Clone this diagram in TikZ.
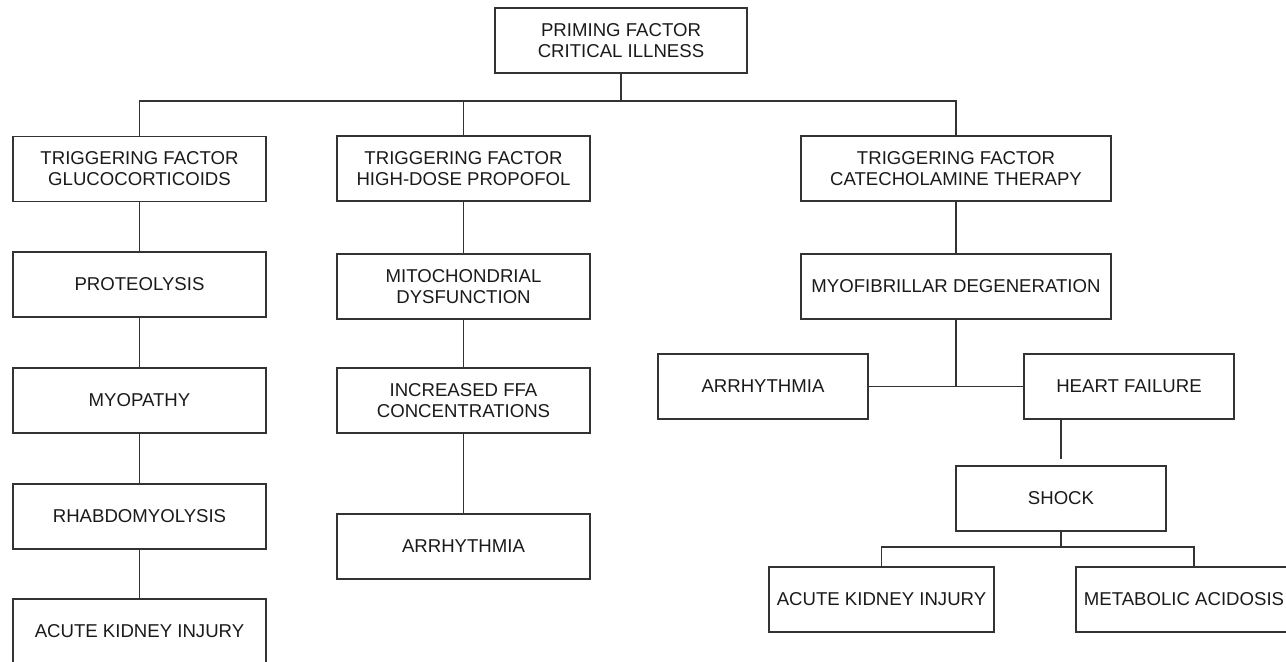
\documentclass[tikz,border=0pt]{standalone}
\usepackage{fontspec}
\setmainfont{Liberation Sans}
\definecolor{inkline}{HTML}{333333}
\definecolor{inktext}{HTML}{1A1A1A}
\begin{document}
\begin{tikzpicture}[x=0.5pt,y=-0.5pt,
  box/.style={draw=inkline, line width=0.7pt, rectangle, inner sep=0pt,
    minimum height=32.5pt, align=center, text=inktext,
    font=\fontsize{9.3}{10.5}\selectfont},
  link/.style={draw=inkline, line width=0.7pt}]
\useasboundingbox (0,0) rectangle (1286,661);
\clip (0,0) rectangle (1286,661);

% root
\node[box, minimum width=126pt] (root) at (621,40.5) {PRIMING FACTOR\\CRITICAL ILLNESS};

% glucocorticoid branch
\node[box, minimum width=126.5pt] (g1) at (139.5,169) {TRIGGERING FACTOR\\GLUCOCORTICOIDS};
\node[box, minimum width=126.5pt] (g2) at (139.5,284.5) {PROTEOLYSIS};
\node[box, minimum width=126.5pt] (g3) at (139.5,400.5) {MYOPATHY};
\node[box, minimum width=126.5pt] (g4) at (139.5,516.5) {RHABDOMYOLYSIS};
\node[box, minimum width=126.5pt] (g5) at (139.5,631.5) {ACUTE KIDNEY INJURY};

% propofol branch
\node[box, minimum width=126.5pt] (p1) at (463.5,168.5) {TRIGGERING FACTOR\\HIGH-DOSE PROPOFOL};
\node[box, minimum width=126.5pt] (p2) at (463.5,286.5) {MITOCHONDRIAL\\DYSFUNCTION};
\node[box, minimum width=126.5pt] (p3) at (463.5,400.5) {INCREASED FFA\\CONCENTRATIONS};
\node[box, minimum width=126.5pt] (p4) at (463.5,546.5) {ARRHYTHMIA};

% catecholamine branch
\node[box, minimum width=155pt] (c1) at (956,168.5) {TRIGGERING FACTOR\\CATECHOLAMINE THERAPY};
\node[box, minimum width=155pt] (c2) at (956,286.5) {MYOFIBRILLAR DEGENERATION};
\node[box, minimum width=105pt] (c3) at (763,386.5) {ARRHYTHMIA};
\node[box, minimum width=105pt] (c4) at (1129,386.5) {HEART FAILURE};
\node[box, minimum width=105pt] (c5) at (1061,498.5) {SHOCK};
\node[box, minimum width=112.5pt] (c6) at (881.5,599.5) {ACUTE KIDNEY INJURY};
\node[box, minimum width=108pt] (c7) at (1184,599.5) {METABOLIC ACIDOSIS};

% junction points
\coordinate (rootj) at (621,101);
\coordinate (hfend) at (1061,459);
\coordinate (shockj) at (1061,547);
\coordinate (maj) at (1194,547);

% root fan-out
\draw[link] (root.south) -- (rootj);
\draw[link] (g1.north) |- (rootj) -| (c1.north);
\draw[link] (p1.north) -- (p1.north |- rootj);

% chains
\draw[link] (g1.south) -- (g2.north);
\draw[link] (g2.south) -- (g3.north);
\draw[link] (g3.south) -- (g4.north);
\draw[link] (g4.south) -- (g5.north);

\draw[link] (p1.south) -- (p2.north);
\draw[link] (p2.south) -- (p3.north);
\draw[link] (p3.south) -- (p4.north);

\draw[link] (c1.south) -- (c2.north);
\draw[link] (c2.south) -- (c2.south |- c3.east);
\draw[link] (c3.east) -- (c4.west);
\draw[link] (c4.south -| hfend) -- (hfend);
\draw[link] (c5.south) -- (shockj);
\draw[link] (c6.north) |- (shockj) -- (maj) -- (maj |- c7.north);
\end{tikzpicture}
\end{document}
